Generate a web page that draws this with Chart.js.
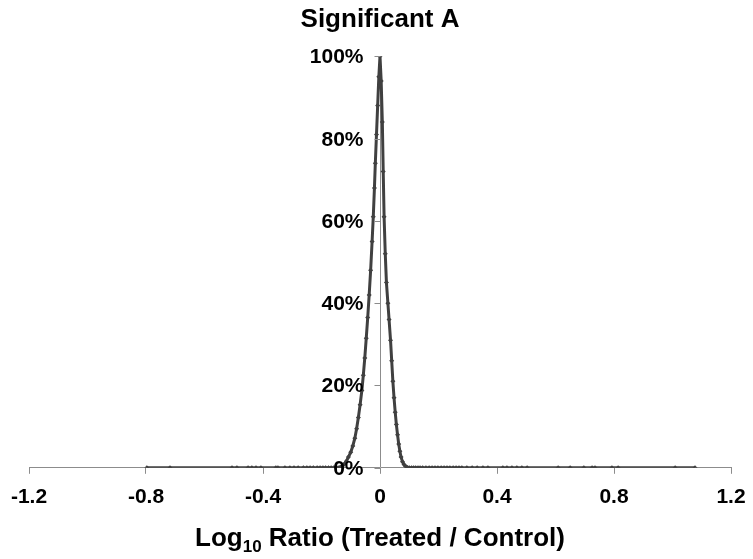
<!DOCTYPE html>
<html>
<head>
<meta charset="utf-8">
<script src="https://cdn.jsdelivr.net/npm/chart.js@4"></script>
<style>
  html, body { margin: 0; padding: 0; background: #fff; }
  #wrap { width: 753px; height: 559px; }
</style>
</head>
<body>
<div id="wrap"><canvas id="distChart" width="753" height="559"></canvas></div>
<script>
// log10 ratio of each point, sorted, and the percentage plotted for it
const ratios = [
  -0.797, -0.718, -0.506, -0.489, -0.451, -0.438, -0.424, -0.407, -0.356, -0.349,
  -0.325, -0.308, -0.294, -0.280, -0.262, -0.250, -0.239, -0.228, -0.215, -0.205,
  -0.195, -0.186, -0.176, -0.167, -0.158, -0.150, -0.143,
  -0.137, -0.130, -0.122, -0.115, -0.108, -0.100, -0.093, -0.086, -0.080, -0.074,
  -0.068, -0.062, -0.057, -0.052, -0.047, -0.042, -0.037, -0.032, -0.027, -0.023,
  -0.019, -0.016, -0.012, -0.008, -0.004, 0,
  0.004, 0.008, 0.011, 0.014, 0.018, 0.022, 0.027, 0.031, 0.036, 0.040,
  0.044, 0.048, 0.052, 0.056, 0.060, 0.064, 0.068, 0.072, 0.077, 0.082,
  0.088, 0.094, 0.100,
  0.108, 0.115, 0.122, 0.130, 0.137, 0.146, 0.157, 0.168, 0.178, 0.188,
  0.198, 0.209, 0.219, 0.229, 0.239, 0.250, 0.260, 0.270, 0.280, 0.297,
  0.315, 0.332, 0.352, 0.369, 0.420, 0.434, 0.451, 0.468, 0.485, 0.503,
  0.609, 0.650, 0.697, 0.725, 0.735, 0.793, 0.814, 1.009, 1.077
];
const percents = [
  0, 0, 0, 0, 0, 0, 0, 0, 0, 0,
  0, 0, 0, 0, 0, 0, 0, 0, 0, 0,
  0, 0, 0, 0, 0, 0, 0,
  0.1, 0.4, 0.9, 1.6, 2.6, 3.8, 5.3, 7.2, 9.5, 12.2,
  15.3, 18.8, 22.5, 26.7, 31.5, 36.5, 42, 48, 55, 61,
  68, 74, 81, 88, 95, 100,
  94, 84, 72, 61, 52, 45, 40, 36, 31, 26,
  21, 17, 13.5, 10.5, 8, 5.8, 4, 2.6, 1.5, 0.8,
  0.3, 0.1, 0,
  0, 0, 0, 0, 0, 0, 0, 0, 0, 0,
  0, 0, 0, 0, 0, 0, 0, 0, 0, 0,
  0, 0, 0, 0, 0, 0, 0, 0, 0, 0,
  0, 0, 0, 0, 0, 0, 0, 0, 0
];
const xTicks = [-1.2, -0.8, -0.4, 0, 0.4, 0.8, 1.2];
const yTicks = [0, 20, 40, 60, 80, 100];

const axisGrey = '#8c8c8c';
const lineColor = '#404040';
const fontFamily = "'Liberation Sans', Arial, sans-serif";

// y axis crosses at x = 0: tick marks and right-aligned labels on its left
const yAxisPlugin = {
  id: 'yAxisAtZero',
  afterDatasetsDraw(chart) {
    const ctx = chart.ctx;
    const xs = chart.scales.x;
    const ys = chart.scales.y;
    const x0 = Math.round(xs.getPixelForValue(0)) + 0.5;
    ctx.save();
    ctx.strokeStyle = axisGrey;
    ctx.lineWidth = 1;
    ctx.fillStyle = '#000';
    ctx.font = 'bold 21px ' + fontFamily;
    ctx.textAlign = 'right';
    ctx.textBaseline = 'middle';
    yTicks.forEach(v => {
      const y = Math.round(ys.getPixelForValue(v)) + 0.5;
      ctx.beginPath();
      ctx.moveTo(x0 - 6, y);
      ctx.lineTo(x0, y);
      ctx.stroke();
      ctx.fillText(v + '%', x0 - 17, y + 1);
    });
    ctx.restore();
  }
};

// x axis title with a subscript 10, drawn under the tick labels
const xTitlePlugin = {
  id: 'xTitle',
  afterDraw(chart) {
    const ctx = chart.ctx;
    const area = chart.chartArea;
    const main = 'bold 26px ' + fontFamily;
    const sub = 'bold 17px ' + fontFamily;
    const parts = [['Log', main, 0], ['10', sub, 6], [' Ratio (Treated / Control)', main, 0]];
    ctx.save();
    ctx.fillStyle = '#000';
    ctx.textBaseline = 'alphabetic';
    ctx.textAlign = 'left';
    let total = 0;
    parts.forEach(p => { ctx.font = p[1]; total += ctx.measureText(p[0]).width; });
    let x = (area.left + area.right) / 2 - total / 2;
    const y = chart.scales.x.bottom + 25;
    parts.forEach(p => {
      ctx.font = p[1];
      ctx.fillText(p[0], x, y + p[2]);
      x += ctx.measureText(p[0]).width;
    });
    ctx.restore();
  }
};

new Chart(document.getElementById('distChart'), {
  type: 'scatter',
  data: {
    datasets: [{
      data: ratios.map((r, i) => ({ x: r, y: percents[i] })),
      showLine: true,
      borderColor: lineColor,
      borderWidth: 3,
      backgroundColor: lineColor,
      pointStyle: 'rectRot',
      pointRadius: 2.5,
      pointBorderWidth: 0,
      tension: 0
    }]
  },
  options: {
    responsive: false,
    animation: false,
    layout: { padding: { left: 29, right: 22, top: 0, bottom: 38 } },
    plugins: {
      legend: { display: false },
      tooltip: { enabled: false },
      title: {
        display: true,
        text: 'Significant A',
        color: '#000',
        font: { family: fontFamily, size: 26, weight: 'bold' },
        padding: { top: 4, bottom: 21 }
      }
    },
    scales: {
      x: {
        type: 'linear',
        min: -1.2,
        max: 1.2,
        afterBuildTicks: axis => { axis.ticks = xTicks.map(v => ({ value: v })); },
        // end labels may hang over the edges; the layout padding sets the span
        afterFit: axis => { axis.paddingLeft = 0; axis.paddingRight = 0; },
        border: { color: axisGrey, width: 1 },
        grid: {
          drawOnChartArea: true,
          drawTicks: true,
          tickLength: 6,
          // only the zero line is shown: it serves as the vertical axis
          color: c => (c.tick && c.tick.value === 0 ? axisGrey : 'rgba(0,0,0,0)'),
          tickColor: axisGrey
        },
        ticks: {
          color: '#000',
          padding: 11,
          maxRotation: 0,
          font: { family: fontFamily, size: 21, weight: 'bold' },
          callback: v => (v === 0 ? '0' : String(v))
        }
      },
      y: {
        type: 'linear',
        position: { x: 0 },
        min: 0,
        max: 100,
        afterBuildTicks: axis => { axis.ticks = yTicks.map(v => ({ value: v })); },
        border: { display: false },
        grid: { display: false },
        ticks: { display: false }
      }
    }
  },
  plugins: [yAxisPlugin, xTitlePlugin]
});
</script>
</body>
</html>
